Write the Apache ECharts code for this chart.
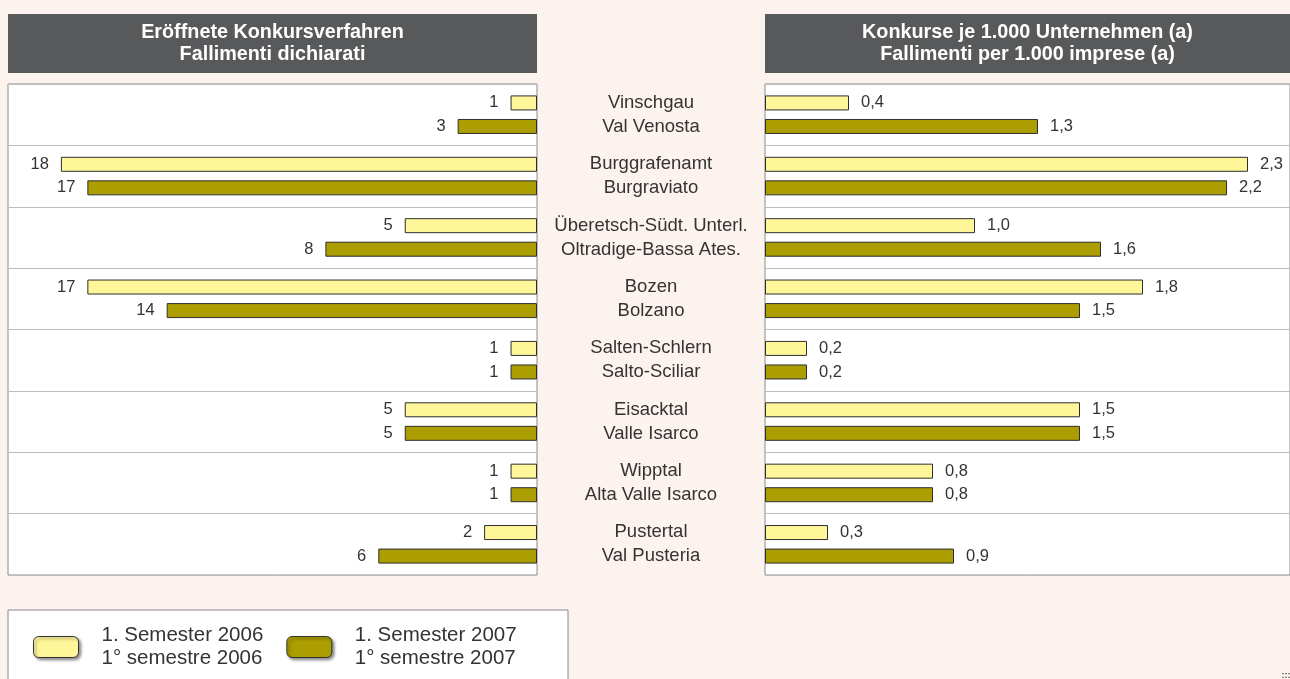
<!DOCTYPE html>
<html>
<head>
<meta charset="utf-8">
<title>Konkursverfahren</title>
<script src="https://cdn.jsdelivr.net/npm/echarts@6/dist/echarts.min.js"></script>
<style>
  html, body { margin: 0; padding: 0; background: #fdf3ee; }
  #chart { width: 1290px; height: 679px; }
</style>
</head>
<body>
<div id="chart"></div>
<script>
// districts (German \n Italian)
var districts = [
  'Vinschgau\nVal Venosta',
  'Burggrafenamt\nBurgraviato',
  'Überetsch-Südt. Unterl.\nOltradige-Bassa Ates.',
  'Bozen\nBolzano',
  'Salten-Schlern\nSalto-Sciliar',
  'Eisacktal\nValle Isarco',
  'Wipptal\nAlta Valle Isarco',
  'Pustertal\nVal Pusteria'
]
var name2006 = '1. Semester 2006\n1° semestre 2006'
var name2007 = '1. Semester 2007\n1° semestre 2007'

// opened bankruptcy proceedings
var count2006 = [1, 18, 5, 17, 1, 5, 1, 2]
var count2007 = [3, 17, 8, 14, 1, 5, 1, 6]
// bankruptcies per 1.000 enterprises
var rate2006 = [0.4, 2.3, 1.0, 1.8, 0.2, 1.5, 0.8, 0.3]
var rate2007 = [1.3, 2.2, 1.6, 1.5, 0.2, 1.5, 0.8, 0.9]

var headLeft = 'Eröffnete Konkursverfahren\nFallimenti dichiarati'
var headRight = 'Konkurse je 1.000 Unternehmen (a)\nFallimenti per 1.000 imprese (a)'

var yellow = '#fff699'
var olive = '#ac9e00'
var font = '"Liberation Sans", Arial, sans-serif'

var chart = echarts.init(document.getElementById('chart'))

function barSeries(name, data, color, idx, side) {
  return {
    name: name,
    type: 'bar',
    xAxisIndex: idx,
    yAxisIndex: idx,
    data: data,
    barWidth: 15,
    barGap: '57%',
    itemStyle: { color: color, borderColor: '#2e2e2e', borderWidth: 1 },
    label: {
      show: true,
      position: side,
      distance: 12,
      fontSize: 16.5,
      color: '#333',
      formatter: function (p) {
        return idx === 0 ? String(p.value) : p.value.toFixed(1).replace('.', ',')
      }
    },
    animation: false
  }
}

chart.setOption({
  backgroundColor: '#fdf3ee',
  textStyle: { fontFamily: font },
  grid: [
    { left: 8, top: 84, width: 529, height: 491, show: true, backgroundColor: '#fff', borderColor: '#8a8a8a', borderWidth: 1 },
    { left: 765, top: 84, width: 528, height: 491, show: true, backgroundColor: '#fff', borderColor: '#8a8a8a', borderWidth: 1 }
  ],
  xAxis: [
    { gridIndex: 0, type: 'value', min: 0, max: 20, inverse: true, show: false },
    { gridIndex: 1, type: 'value', min: 0, max: 2.5, show: false }
  ],
  yAxis: [
    {
      gridIndex: 0, type: 'category', data: districts, inverse: true,
      axisLine: { show: false }, axisTick: { show: false }, axisLabel: { show: false },
      splitLine: { show: true, lineStyle: { color: '#bdbdbd', width: 1.2 } }
    },
    {
      gridIndex: 1, type: 'category', data: districts, inverse: true,
      axisLine: { show: false }, axisTick: { show: false },
      axisLabel: { align: 'center', margin: 114, fontSize: 18.5, lineHeight: 24, color: '#333' },
      splitLine: { show: true, lineStyle: { color: '#bdbdbd', width: 1.2 } }
    }
  ],
  legend: {
    data: [name2006, name2007],
    left: 33,
    top: 624,
    orient: 'horizontal',
    icon: 'roundRect',
    itemWidth: 45,
    itemHeight: 21,
    itemGap: 23,
    padding: 0,
    selectedMode: false,
    itemStyle: { borderColor: '#333', borderWidth: 1, shadowBlur: 3, shadowColor: 'rgba(0,0,0,0.45)', shadowOffsetX: 2, shadowOffsetY: 2 },
    textStyle: { fontSize: 20.5, lineHeight: 23, color: '#333', padding: [0, 0, 0, 18] }
  },
  graphic: [
    { type: 'rect', z: -1, shape: { x: 8, y: 610, width: 560, height: 90 }, style: { fill: '#fff', stroke: '#8a8a8a', lineWidth: 1 } },
    { type: 'rect', shape: { x: 8, y: 14, width: 529, height: 59 }, style: { fill: '#58595b' } },
    { type: 'rect', shape: { x: 765, y: 14, width: 530, height: 59 }, style: { fill: '#58595b' } },
    { type: 'text', x: 272.5, y: 43.5, style: { text: headLeft, fill: '#fff', fontSize: 19.8, fontWeight: 'bold', fontFamily: font, lineHeight: 22, align: 'center', verticalAlign: 'middle' } },
    { type: 'text', x: 1027.5, y: 43.5, style: { text: headRight, fill: '#fff', fontSize: 19.8, fontWeight: 'bold', fontFamily: font, lineHeight: 22, align: 'center', verticalAlign: 'middle' } },
    { type: 'text', x: 1286, y: 676, style: { text: ':::', fill: '#444', fontSize: 9, fontWeight: 'bold', align: 'center', verticalAlign: 'middle' } }
  ],
  series: [
    barSeries(name2006, count2006, yellow, 0, 'left'),
    barSeries(name2007, count2007, olive, 0, 'left'),
    barSeries(name2006, rate2006, yellow, 1, 'right'),
    barSeries(name2007, rate2007, olive, 1, 'right')
  ]
})
</script>
</body>
</html>
